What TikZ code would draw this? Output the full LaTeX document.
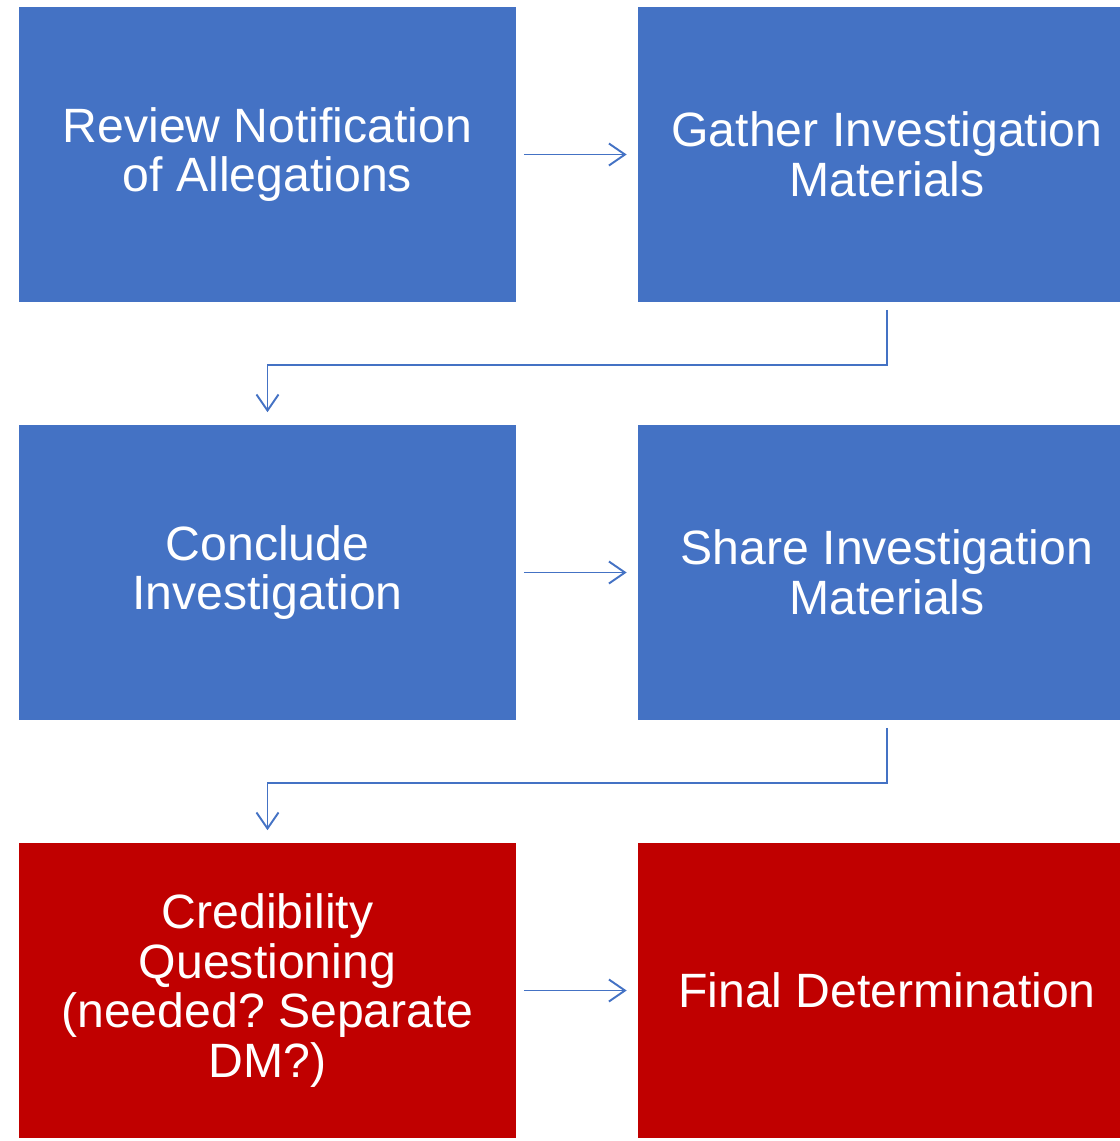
\documentclass[tikz,border=0pt]{standalone}
\usepackage{fontspec}
\setmainfont{Liberation Sans}
\usetikzlibrary{arrows.meta}
\frenchspacing

\definecolor{stepblue}{HTML}{4472C4}
\definecolor{stepred}{HTML}{C00000}

\tikzset{
  stepbox/.style={fill=stepblue, draw=none, text=white, minimum width=4.97cm,
    minimum height=2.95cm, align=center, inner sep=0pt,
    font=\fontsize{13.7}{14.2}\selectfont},
  redbox/.style={stepbox, fill=stepred},
  link/.style={draw=stepblue, line width=0.55pt,
    -{Straight Barb[length=1.6mm,width=2.2mm]}}
}

\begin{document}
\begin{tikzpicture}[x=0.01cm, y=-0.01cm]
  \useasboundingbox (0,0) rectangle (1120,1141);
  \clip (0,0) rectangle (1120,1141);
  % process steps
  \node[stepbox] (review)   at (267.5,154.5) {Review Notification\\of Allegations};
  \node[stepbox] (gather)   at (887,154.5)   {Gather Investigation\\Materials};
  \node[stepbox] (conclude) at (267.5,572.5) {Conclude\\Investigation};
  \node[stepbox] (share)    at (887,572.5)   {Share Investigation\\Materials};
  \node[redbox]  (cred)     at (267.5,990.5) {Credibility\\Questioning\\(needed? Separate\\DM?)};
  \node[redbox]  (final)    at (887,990.5)   {Final Determination};
  % connectors
  \draw[link, shorten <=0.07cm, shorten >=0.11cm] (review) -- (gather);
  \draw[link, shorten <=0.07cm, shorten >=0.12cm] (gather.south) -- ++(0,62) -| (conclude.north);
  \draw[link, shorten <=0.07cm, shorten >=0.11cm] (conclude) -- (share);
  \draw[link, shorten <=0.07cm, shorten >=0.12cm] (share.south) -- ++(0,62) -| (cred.north);
  \draw[link, shorten <=0.07cm, shorten >=0.11cm] (cred) -- (final);
\end{tikzpicture}
\end{document}
